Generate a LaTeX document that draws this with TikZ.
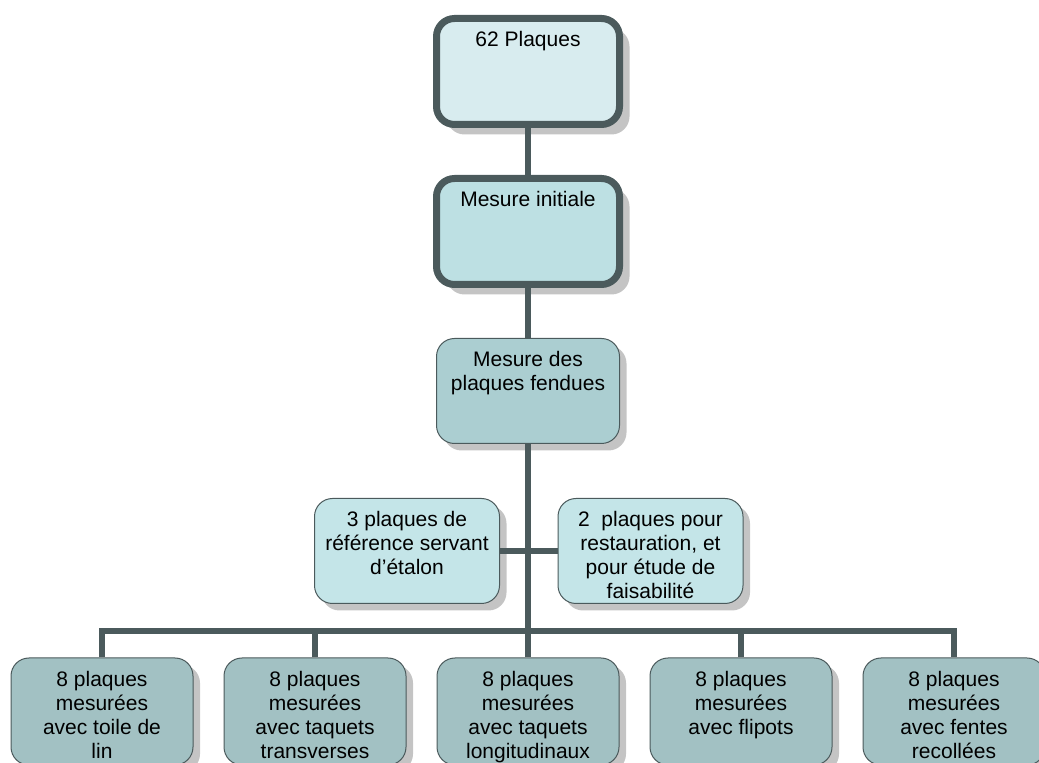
\documentclass[tikz,border=0pt]{standalone}
\usepackage{fontspec}
\setmainfont{Liberation Sans}
\usetikzlibrary{positioning,shadows}
\definecolor{slate}{HTML}{4B5A5C}
\definecolor{topfill}{HTML}{D8ECEF}
\definecolor{initfill}{HTML}{BDE0E3}
\definecolor{splitfill}{HTML}{ABCED1}
\definecolor{sidefill}{HTML}{C4E5E8}
\definecolor{leaffill}{HTML}{A2C1C3}
\definecolor{shadowgray}{HTML}{C4C4C4}
\newcommand{\boxtext}[1]{\parbox[c][80pt][t]{176pt}{\centering #1}}
\tikzset{
  boxbase/.style={draw=slate,line width=1pt,rounded corners=18pt,minimum width=183pt,
    minimum height=105pt,inner xsep=3pt,inner ysep=12pt,font=\fontsize{21}{24}\selectfont},
  plaquebox/.style={boxbase,drop shadow={shadow xshift=7pt,shadow yshift=-7pt,fill=shadowgray,opacity=1}},
  plaquethick/.style={boxbase,line width=7pt,minimum height=106pt,
    drop shadow={shadow xshift=10pt,shadow yshift=-10pt,fill=shadowgray,opacity=1}},
  sidebox/.style={plaquebox,fill=sidefill,minimum width=185pt},
  leafbox/.style={plaquebox,fill=leaffill,minimum width=181pt,minimum height=107pt},
  trunk/.style={draw=slate,line width=5.5pt}
}
\begin{document}
\begin{tikzpicture}[x=1pt,y=1pt,node distance=54pt and 30pt]
  \useasboundingbox (0,0) rectangle (1039,763);
  \node[plaquethick,fill=topfill] (plaques) at (528,691.5) {\boxtext{62 Plaques}};
  \node[plaquethick,fill=initfill,below=47pt of plaques] (initiale) {\boxtext{Mesure initiale}};
  \node[plaquebox,fill=splitfill,below=50pt of initiale] (fendues) {\boxtext{Mesure des\\plaques fendues}};
  \node[sidebox,below=of fendues,xshift=-121pt] (etalon) {\boxtext{3 plaques de\\référence servant\\d’étalon}};
  \node[sidebox,below=of fendues,xshift=122.5pt] (restaur) {\boxtext{2\ \ plaques pour\\restauration, et\\pour étude de\\faisabilité}};
  \node[leafbox] (longi) at (528,51.5) {\boxtext{8 plaques\\mesurées\\avec taquets\\longitudinaux}};
  \node[leafbox,left=of longi] (transv) {\boxtext{8 plaques\\mesurées\\avec taquets\\transverses}};
  \node[leafbox,left=of transv] (toile) {\boxtext{8 plaques\\mesurées\\avec toile de\\lin}};
  \node[leafbox,right=of longi] (flipots) {\boxtext{8 plaques\\mesurées\\avec flipots}};
  \node[leafbox,right=of flipots] (fentes) {\boxtext{8 plaques\\mesurées\\avec fentes\\recollées}};
  \coordinate (bus) at (528,132);
  \draw[trunk] (plaques) -- (initiale);
  \draw[trunk] (initiale) -- (fendues);
  \draw[trunk] (fendues) -- (bus);
  \draw[trunk] (etalon) -- (restaur);
  \draw[trunk] (toile.north) |- (bus) -| (fentes.north);
  \draw[trunk] (transv.north) -- (transv.north |- bus);
  \draw[trunk] (longi.north) -- (longi.north |- bus);
  \draw[trunk] (flipots.north) -- (flipots.north |- bus);
\end{tikzpicture}
\end{document}
